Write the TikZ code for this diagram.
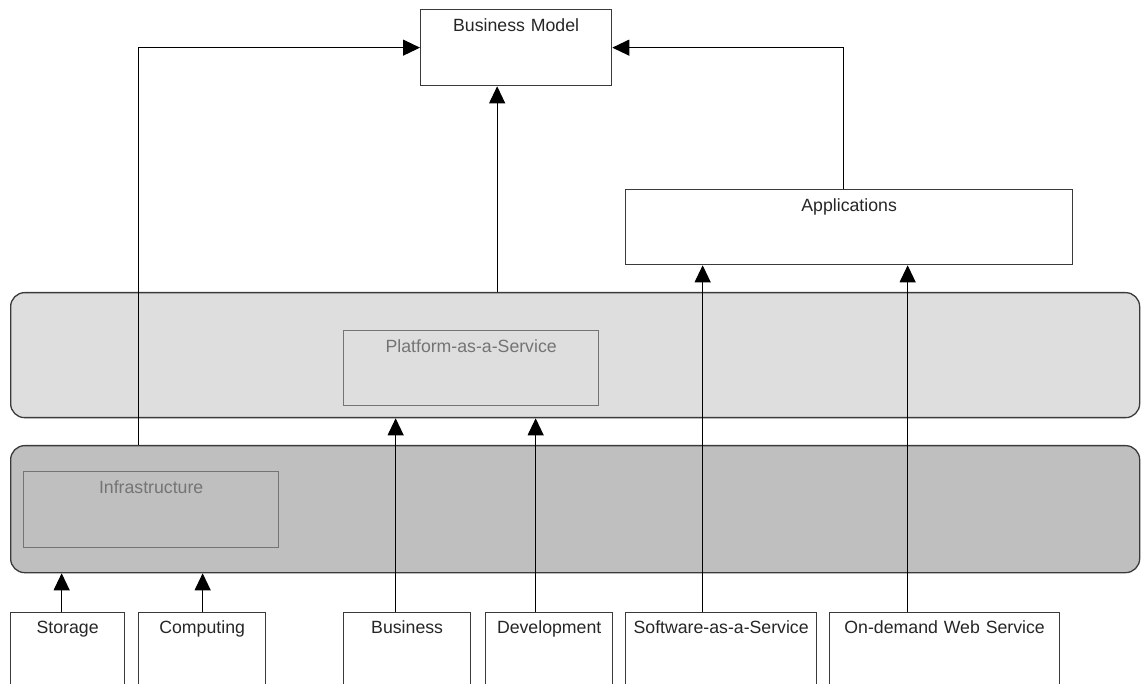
\documentclass[tikz,border=0pt]{standalone}
\usepackage{fontspec}
\setmainfont{Liberation Sans}
\usetikzlibrary{arrows.meta}
\definecolor{edge}{HTML}{3A3A3A}
\definecolor{faint}{HTML}{747474}
\definecolor{paasfill}{HTML}{DEDEDE}
\definecolor{infrafill}{HTML}{BFBFBF}

\begin{document}
\begin{tikzpicture}[x=1pt,y=-1pt,
    box/.style 2 args={draw=edge,line width=1.3pt,inner sep=0pt,anchor=north west,
      text width=#1pt,text height=21.5pt,text depth=#2pt,align=center,
      font=\fontsize{17.7}{20}\selectfont,text=black!85},
    inner/.style={draw=faint,text=faint},
    band/.style 2 args={draw=edge,line width=1.3pt,rounded corners=14pt,inner sep=0pt,
      anchor=north west,minimum width=1129pt,minimum height=#1pt,fill=#2},
    arr/.style={line width=1.1pt,-{Triangle[length=17pt,width=16pt]}}]
    \clip (0,0) rectangle (1141,684);

    \node (bm) [box={191}{54.5}] at (420,9) {Business Model};
    \node (apps) [box={447}{53.5}] at (625,189) {Applications};

    \node (paasband) [band={125}{paasfill}] at (10,292) {};
    \node (paas) [box={255}{53.5},inner] at (343,330) {Platform-as-a-Service};
    \node (infraband) [band={127}{infrafill}] at (10,445) {};
    \node (infra) [box={255}{54.5},inner] at (23,471) {Infrastructure};

    \node (storage) [box={114}{78.5}] at (10,611.7) {Storage};
    \node (computing) [box={127}{78.5}] at (138,611.7) {Computing};
    \node (business) [box={127}{78.5}] at (343,611.7) {Business};
    \node (development) [box={127}{78.5}] at (485,611.7) {Development};
    \node (saas) [box={191}{78.5}] at (625,611.7) {Software-as-a-Service};
    \node (ondemand) [box={230}{78.5}] at (829,611.7) {On-demand Web Service};

    \draw[arr] ([xshift=128.5pt]infraband.north west) |- (bm.west);
    \draw[arr] ([xshift=-78pt]paasband.north) -- ([xshift=-19pt]bm.south);
    \draw[arr] ([xshift=-5.5pt]apps.north) |- (bm.east);

    \draw[arr] ([xshift=-6pt]storage.north) -- ([xshift=-6pt]storage.north |- infraband.south);
    \draw[arr] ([xshift=0.5pt]computing.north) -- ([xshift=0.5pt]computing.north |- infraband.south);
    \draw[arr] ([xshift=-11.5pt]business.north) -- ([xshift=-11.5pt]business.north |- paasband.south);
    \draw[arr] ([xshift=-13.5pt]development.north) -- ([xshift=-13.5pt]development.north |- paasband.south);
    \draw[arr] ([xshift=-18.5pt]saas.north) -- ([xshift=-18.5pt]saas.north |- apps.south);
    \draw[arr] ([xshift=-37pt]ondemand.north) -- ([xshift=-37pt]ondemand.north |- apps.south);
\end{tikzpicture}
\end{document}
